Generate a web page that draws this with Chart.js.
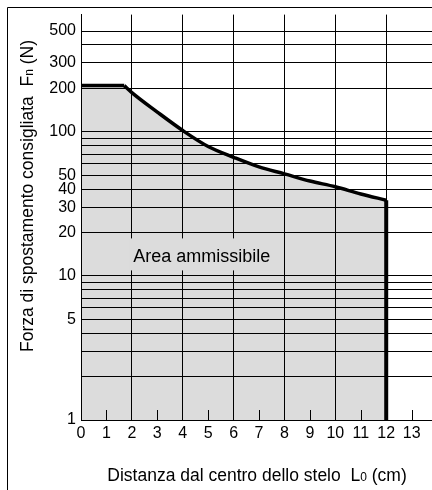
<!DOCTYPE html>
<html>
<head>
<meta charset="utf-8">
<script src="https://cdn.jsdelivr.net/npm/chart.js@4.4.0/dist/chart.umd.min.js"></script>
<style>
  html, body { margin: 0; padding: 0; background: #fff; }
  canvas { display: block; }
</style>
</head>
<body>
<canvas id="myChart" width="432" height="490"></canvas>
<script>
// Recommended displacement force vs distance from rod centre
const distances = [0, 1.7, 2, 3, 4, 5, 6, 7, 8, 9, 10, 11, 12];
const forces = [209, 209, 187, 137, 102, 79, 66.5, 57, 51, 45.5, 41.5, 37, 33.5];
const limitX = [12, 12];
const limitF = [33.5, 1];

const xTickValues = [0, 1, 2, 3, 4, 5, 6, 7, 8, 9, 10, 11, 12, 13];
const yGridValues = [1, 2, 3, 4, 5, 6, 7, 8, 9, 10, 20, 30, 40, 50, 60, 70, 80, 90, 100, 200, 300, 400, 500];
const yTickLabels = [1, 5, 10, 20, 30, 40, 50, 100, 200, 300, 500];

const areaLabel = 'Area ammissibile';
const labelAt = { x: 2.05, y: 12.4 };

const FONT = "'Liberation Sans', Arial, Helvetica, sans-serif";
const FILL = '#dcdcdc';

function pts(xs, ys) {
    return xs.map((v, i) => ({ x: v, y: ys[i] }));
}

// text with a small index letter (Fn, L0)
function drawIndexed(ctx, parts, x, y, align) {
    const widths = parts.map(p => { ctx.font = p.size + 'px ' + FONT; return ctx.measureText(p.text).width; });
    const total = widths.reduce((a, b) => a + b, 0);
    let cx = align === 'center' ? x - total / 2 : x;
    parts.forEach((p, i) => {
        ctx.font = p.size + 'px ' + FONT;
        ctx.fillText(p.text, cx, y + (p.dy || 0));
        cx += widths[i];
    });
}

const decor = {
    id: 'decor',
    afterDraw(chart) {
        const { ctx, chartArea: a, scales: { x, y } } = chart;
        ctx.save();
        ctx.strokeStyle = '#000';
        ctx.lineWidth = 1;

        // short ticks on odd values
        xTickValues.filter(v => v % 2 === 1).forEach(v => {
            const px = Math.round(x.getPixelForValue(v)) + 0.5;
            ctx.beginPath();
            ctx.moveTo(px, a.bottom);
            ctx.lineTo(px, a.bottom - 10);
            ctx.stroke();
        });

        // area label with its own background
        ctx.font = '18px ' + FONT;
        ctx.textBaseline = 'alphabetic';
        const lx = x.getPixelForValue(labelAt.x);
        const ly = y.getPixelForValue(labelAt.y);
        const w = ctx.measureText(areaLabel).width;
        ctx.fillStyle = FILL;
        ctx.fillRect(lx - 4, ly - 24, w + 8, 32);
        ctx.fillStyle = '#000';
        ctx.fillText(areaLabel, lx, ly);

        // outer frame
        ctx.beginPath();
        ctx.moveTo(7.5, chart.height);
        ctx.lineTo(7.5, 7.5);
        ctx.lineTo(chart.width, 7.5);
        ctx.stroke();

        // axis titles
        ctx.textAlign = 'left';
        drawIndexed(ctx, [
            { text: 'Distanza dal centro dello stelo  L', size: 17.5 },
            { text: '0', size: 12 },
            { text: ' (cm)', size: 17.5 }
        ], 257, 481, 'center');

        ctx.save();
        ctx.translate(33, 196);
        ctx.rotate(-Math.PI / 2);
        drawIndexed(ctx, [
            { text: 'Forza di spostamento consigliata  F', size: 17.5 },
            { text: 'n', size: 12 },
            { text: ' (N)', size: 17.5 }
        ], 0, 0, 'center');
        ctx.restore();

        ctx.restore();
    }
};

function initChart() {
    const ctx = document.getElementById('myChart').getContext('2d');
    Chart.defaults.font.family = FONT;
    Chart.defaults.color = '#000';

    // datasets listed first are painted last (on top)
    new Chart(ctx, {
        type: 'line',
        data: {
            datasets: [
                {
                    data: pts(limitX, limitF),
                    borderColor: '#000',
                    borderWidth: 4,
                    fill: false,
                    pointRadius: 0
                },
                {
                    data: pts(distances.slice(0, 2), forces.slice(0, 2)),
                    borderColor: '#000',
                    borderWidth: 3.5,
                    fill: false,
                    pointRadius: 0,
                    tension: 0
                },
                {
                    data: pts(distances.slice(1), forces.slice(1)),
                    borderColor: '#000',
                    borderWidth: 3.5,
                    fill: false,
                    pointRadius: 0,
                    cubicInterpolationMode: 'monotone'
                },
                {
                    // grey allowed area
                    data: pts(distances, forces),
                    borderWidth: 0,
                    borderColor: 'rgba(0,0,0,0)',
                    backgroundColor: FILL,
                    fill: 'start',
                    pointRadius: 0,
                    tension: 0
                }
            ]
        },
        options: {
            responsive: false,
            animation: false,
            layout: { padding: { top: 8, right: 0, left: 0, bottom: 0 } },
            plugins: {
                legend: { display: false },
                tooltip: { enabled: false }
            },
            scales: {
                x: {
                    type: 'linear',
                    min: 0,
                    max: 13.8,
                    afterBuildTicks: s => { s.ticks = xTickValues.map(v => ({ value: v })); },
                    afterFit: s => { s.height = 70; },
                    grid: {
                        z: 1,
                        color: c => (c.tick && c.tick.value % 2 === 0) ? '#000' : 'rgba(0,0,0,0)',
                        lineWidth: 1,
                        drawTicks: false
                    },
                    border: { display: true, color: '#000', width: 1, z: 1 },
                    ticks: {
                        autoSkip: false,
                        maxRotation: 0,
                        padding: 4,
                        font: { size: 16 }
                    }
                },
                y: {
                    type: 'logarithmic',
                    min: 1,
                    max: 650,
                    afterBuildTicks: s => { s.ticks = yGridValues.map(v => ({ value: v })); },
                    afterFit: s => { s.width = 81; },
                    grid: {
                        z: 1,
                        color: '#000',
                        lineWidth: 1,
                        drawTicks: false
                    },
                    border: { display: true, color: '#000', width: 1, z: 1 },
                    ticks: {
                        autoSkip: false,
                        padding: 5,
                        font: { size: 16 },
                        callback: v => yTickLabels.includes(v) ? String(v) : ''
                    }
                }
            }
        },
        plugins: [decor]
    });
}

document.addEventListener('DOMContentLoaded', initChart);
</script>
</body>
</html>
